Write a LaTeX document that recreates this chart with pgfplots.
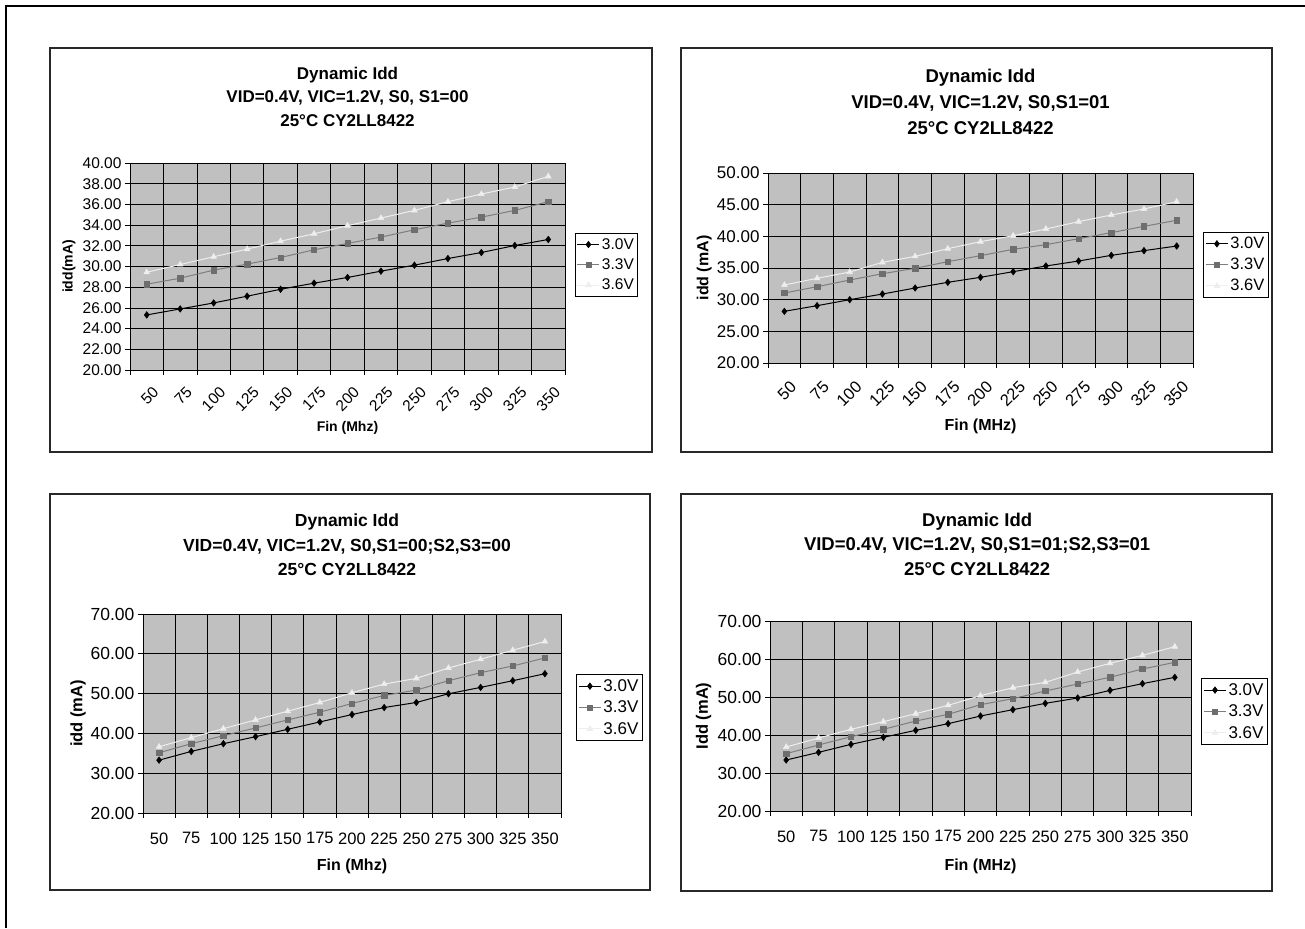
\documentclass[border=0pt]{standalone}
\usepackage{fontspec}
\setmainfont{Liberation Sans}
\usepackage{pgfplots}
\usepackage{pgfplotstable}
\pgfplotsset{compat=1.18}
\definecolor{plotgray}{RGB}{192,192,192}
\definecolor{bordergray}{RGB}{128,128,128}
\definecolor{sthree}{RGB}{110,110,110}
\definecolor{lthree}{RGB}{125,125,125}
\definecolor{ssix}{RGB}{238,238,238}

\pgfplotstableread{
x a b c
1 25.32 28.29 29.45
2 25.90 28.87 30.19
3 26.48 29.65 30.94
4 27.13 30.23 31.68
5 27.80 30.87 32.45
6 28.39 31.61 33.16
7 28.94 32.23 33.94
8 29.55 32.84 34.68
9 30.13 33.55 35.42
10 30.77 34.19 36.26
11 31.35 34.77 37.00
12 32.03 35.42 37.68
13 32.61 36.26 38.71
}\dataA
\pgfplotstableread{
x a b c
1 28.16 31.05 32.32
2 29.05 32.05 33.37
3 30.00 33.10 34.37
4 30.89 34.10 35.89
5 31.84 34.95 36.84
6 32.74 36.00 38.05
7 33.53 36.95 39.16
8 34.42 37.95 40.10
9 35.32 38.68 41.16
10 36.10 39.63 42.32
11 37.00 40.58 43.37
12 37.74 41.58 44.32
13 38.47 42.53 45.47
}\dataB
\pgfplotstableread{
x a b c
1 33.28 35.14 36.65
2 35.47 37.41 38.93
3 37.41 39.43 41.20
4 39.18 41.37 43.39
5 41.03 43.39 45.58
6 42.88 45.33 47.77
7 44.74 47.52 50.21
8 46.50 49.54 52.40
9 47.77 50.88 53.83
10 49.96 53.24 56.44
11 51.56 55.26 58.63
12 53.24 56.95 60.90
13 55.00 58.97 63.09
}\dataC
\pgfplotstableread{
x a b c
1 33.42 35.09 36.84
2 35.44 37.37 39.21
3 37.54 39.56 41.49
4 39.39 41.49 43.51
5 41.23 43.68 45.61
6 42.98 45.44 47.81
7 45.00 47.98 50.35
8 46.67 49.56 52.46
9 48.33 51.58 53.86
10 49.74 53.42 56.58
11 51.75 55.18 58.86
12 53.51 57.37 60.96
13 55.18 59.12 63.25
}\dataD

\pgfplotsset{
  xlchart/.style={
    scale only axis,
    axis lines*=left,
    axis line style={black, line width=0.8pt},
    axis background/.style={fill=plotgray, draw=bordergray, line width=0.8pt},
    xmin=0.5, xmax=13.5,
    xtick={1,2,3,4,5,6,7,8,9,10,11,12,13},
    xticklabels={50,75,100,125,150,175,200,225,250,275,300,325,350},
    minor xtick={0.5,1.5,2.5,3.5,4.5,5.5,6.5,7.5,8.5,9.5,10.5,11.5,12.5,13.5},
    major x tick style={draw=none},
    xminorgrids, ymajorgrids,
    major grid style={black, line width=0.8pt},
    minor grid style={black, line width=0.8pt},
    tick align=outside,
    major tick length=5pt,
    minor tick length=5pt,
    tick style={black, line width=0.8pt},
    /pgf/number format/assume math mode=true,
    yticklabel={\pgfmathprintnumber[fixed, fixed zerofill, precision=2]{\tick}},
    title style={align=center, anchor=center},
    xlabel style={anchor=center},
    ylabel style={anchor=center},
    legend style={anchor=north west, draw=black, line width=0.8pt, fill=white,
      row sep=4pt, inner xsep=2pt, inner ysep=3pt},
    legend cell align=left,
    legend image code/.code={\draw[mark repeat=2,mark phase=2,##1] plot coordinates {(0pt,0pt) (11pt,0pt) (22pt,0pt)};},
  },
  sA/.style={black, line width=1pt, mark=diamond*, mark size=3.3pt, mark options={solid, fill=black, line width=0.5pt}},
  sB/.style={lthree, line width=1pt, mark=square*, mark size=2.7pt, mark options={solid, draw=sthree, fill=sthree, line width=0.5pt}},
  sC/.style={ssix, line width=1pt, mark=triangle*, mark size=3.3pt, mark options={solid, draw=ssix, fill=ssix, line width=0.5pt}},
}

\begin{document}
\begin{tikzpicture}
\path[use as bounding box] (0pt,0pt) rectangle (1305pt,-928pt);
\draw[line width=2pt] (6pt,-928pt) -- (6pt,-6pt) -- (1305pt,-6pt);
\draw[line width=1.3pt, draw={rgb,255:red,40;green,40;blue,40}] (50pt,-48pt) rectangle (652pt,-452pt);
\draw[line width=1.3pt, draw={rgb,255:red,40;green,40;blue,40}] (681pt,-48pt) rectangle (1272pt,-452pt);
\draw[line width=1.3pt, draw={rgb,255:red,40;green,40;blue,40}] (50pt,-494pt) rectangle (650pt,-890pt);
\draw[line width=1.3pt, draw={rgb,255:red,40;green,40;blue,40}] (681pt,-494pt) rectangle (1272pt,-891pt);

% Chart 1
\begin{axis}[xlchart, at={(130pt,-163pt)}, anchor=north west, width=435pt, height=207pt,
  ymin=20, ymax=40, ytick={20,22,...,40},
  yticklabel style={font=\fontsize{15.5}{17}\selectfont},
  xticklabel style={font=\fontsize{15.5}{17}\selectfont, rotate=45, anchor=east, inner sep=1pt, xshift=-3pt, yshift=-17pt},
  title={Dynamic Idd\\VID=0.4V, VIC=1.2V, S0, S1=00\\25°C CY2LL8422},
  title style={font=\fontsize{17}{23.5}\selectfont\bfseries, at={(axis description cs:0.5,1.292)}},
  xlabel={Fin (Mhz)}, xlabel style={font=\fontsize{14}{16}\selectfont\bfseries, at={(axis description cs:0.5,-0.278)}},
  ylabel={idd(mA)}, ylabel style={font=\fontsize{14}{16}\selectfont\bfseries, at={(axis description cs:-0.14,0.5)}},
  legend style={at={(axis description cs:1.022,0.662)}, font=\fontsize{15.5}{17}\selectfont},
]
\addplot[sA] table[x=x, y=a]{\dataA};
\addplot[sB] table[x=x, y=b]{\dataA};
\addplot[sC] table[x=x, y=c]{\dataA};
\legend{3.0V,3.3V,3.6V}
\end{axis}

% Chart 2
\begin{axis}[xlchart, at={(768pt,-173pt)}, anchor=north west, width=425pt, height=190pt,
  ymin=20, ymax=50, ytick={20,25,...,50},
  yticklabel style={font=\fontsize{17}{19}\selectfont},
  xticklabel style={font=\fontsize{16.5}{18}\selectfont, rotate=45, anchor=east, inner sep=1pt, xshift=-4pt, yshift=-18pt},
  title={Dynamic Idd\\VID=0.4V, VIC=1.2V, S0,S1=01\\25°C CY2LL8422},
  title style={font=\fontsize{18.5}{26}\selectfont\bfseries, at={(axis description cs:0.5,1.345)}},
  xlabel={Fin (MHz)}, xlabel style={font=\fontsize{16}{18}\selectfont\bfseries, at={(axis description cs:0.5,-0.335)}},
  ylabel={idd (mA)}, ylabel style={font=\fontsize{16}{18}\selectfont\bfseries, at={(axis description cs:-0.15,0.5)}},
  legend style={at={(axis description cs:1.0235,0.69)}, font=\fontsize{16.5}{18}\selectfont},
]
\addplot[sA] table[x=x, y=a]{\dataB};
\addplot[sB] table[x=x, y=b]{\dataB};
\addplot[sC] table[x=x, y=c]{\dataB};
\legend{3.0V,3.3V,3.6V}
\end{axis}

% Chart 3
\begin{axis}[xlchart, at={(143pt,-614pt)}, anchor=north west, width=418pt, height=199pt,
  ymin=20, ymax=70, ytick={20,30,...,70},
  yticklabel style={font=\fontsize{17.5}{19}\selectfont},
  xticklabel style={font=\fontsize{16.5}{18}\selectfont, yshift=-11pt},
  title={Dynamic Idd\\VID=0.4V, VIC=1.2V, S0,S1=00;S2,S3=00\\25°C CY2LL8422},
  title style={font=\fontsize{17.5}{24.5}\selectfont\bfseries, at={(axis description cs:0.488,1.317)}},
  xlabel={Fin (Mhz)}, xlabel style={font=\fontsize{16}{18}\selectfont\bfseries, at={(axis description cs:0.5,-0.27)}},
  ylabel={idd (mA)}, ylabel style={font=\fontsize{16.5}{18}\selectfont\bfseries, at={(axis description cs:-0.155,0.5)}},
  legend style={at={(axis description cs:1.036,0.698)}, font=\fontsize{17}{19}\selectfont},
]
\addplot[sA] table[x=x, y=a]{\dataC};
\addplot[sB] table[x=x, y=b]{\dataC};
\addplot[sC] table[x=x, y=c]{\dataC};
\legend{3.0V,3.3V,3.6V}
\end{axis}

% Chart 4
\begin{axis}[xlchart, at={(770pt,-621pt)}, anchor=north west, width=421pt, height=190pt,
  ymin=20, ymax=70, ytick={20,30,...,70},
  yticklabel style={font=\fontsize{17.5}{19}\selectfont},
  xticklabel style={font=\fontsize{16.5}{18}\selectfont, yshift=-11pt},
  title={Dynamic Idd\\VID=0.4V, VIC=1.2V, S0,S1=01;S2,S3=01\\25°C CY2LL8422},
  title style={font=\fontsize{18.5}{24.5}\selectfont\bfseries, at={(axis description cs:0.492,1.373)}},
  xlabel={Fin (MHz)}, xlabel style={font=\fontsize{16}{18}\selectfont\bfseries, at={(axis description cs:0.5,-0.29)}},
  ylabel={Idd (mA)}, ylabel style={font=\fontsize{16.5}{18}\selectfont\bfseries, at={(axis description cs:-0.158,0.5)}},
  legend style={at={(axis description cs:1.024,0.7)}, font=\fontsize{17}{19}\selectfont},
]
\addplot[sA] table[x=x, y=a]{\dataD};
\addplot[sB] table[x=x, y=b]{\dataD};
\addplot[sC] table[x=x, y=c]{\dataD};
\legend{3.0V,3.3V,3.6V}
\end{axis}
\end{tikzpicture}
\end{document}
